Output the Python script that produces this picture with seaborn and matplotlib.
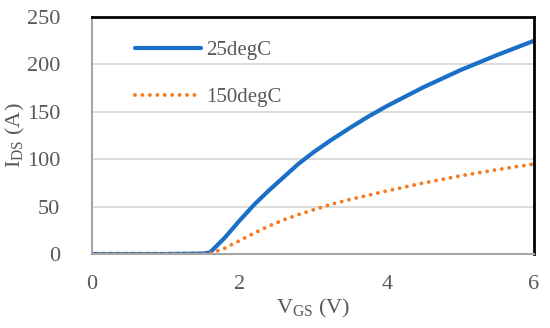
import matplotlib
matplotlib.use("Agg")
import matplotlib.pyplot as plt
import seaborn as sns
import pandas as pd

# Gate voltage sweep (V)
vgs = [0, 0.5, 1.0, 1.5, 1.6, 1.8, 2.0, 2.2, 2.4, 2.6, 2.8, 3.0, 3.25, 3.5,
       3.75, 4.0, 4.5, 5.0, 5.5, 6.0]
# Drain current (A)
ids_25 = [0, 0, 0, 0.5, 1.5, 17, 35, 52, 67, 81, 95, 107, 120.5, 133,
          145, 156, 176, 194, 210, 225]
ids_150 = [0, 0, 0, 0, 0.5, 6, 14, 22, 29.5, 36, 41.5, 46.5, 52.5, 57.5,
           62, 66.5, 75, 82.5, 89, 95]

labels = ["25degC", "150degC"]
x_ticks = [0, 2, 4, 6]
y_ticks = [0, 50, 100, 150, 200, 250]

BLUE = "#1A6FC6"
ORANGE = "#F57C22"
GREY = "#595959"

sns.set_style("white")
plt.rcParams["font.family"] = ["Liberation Serif", "DejaVu Serif"]
plt.rcParams["mathtext.fontset"] = "custom"
plt.rcParams["mathtext.rm"] = "Liberation Serif"

df = pd.DataFrame({"vgs": vgs, "i25": ids_25, "i150": ids_150})

fig = plt.figure(figsize=(5.5, 3.28), dpi=100)
ax = fig.add_axes([0.1673, 0.2256, 0.8037, 0.7224])

sns.lineplot(data=df, x="vgs", y="i25", ax=ax, color=BLUE, linewidth=3.0,
             label=labels[0], solid_capstyle="round")
sns.lineplot(data=df, x="vgs", y="i150", ax=ax, color=ORANGE, linewidth=2.8,
             label=labels[1], linestyle=(0, (0.01, 1.9)),
             dash_capstyle="round")

ax.set_xlim(0, 6)
ax.set_ylim(0, 250)
ax.set_xticks(x_ticks)
ax.set_yticks(y_ticks)
ax.tick_params(axis="both", length=0, labelsize=16, colors=GREY)
ax.tick_params(axis="x", pad=15)
ax.tick_params(axis="y", pad=23)

ax.yaxis.grid(True, color="#D9D9D9", linewidth=1.3)
ax.xaxis.grid(False)
ax.set_axisbelow(True)

for side in ["left", "bottom"]:
    ax.spines[side].set_color("#A6A6A6")
    ax.spines[side].set_linewidth(1.5)
for side in ["top", "right"]:
    ax.spines[side].set_color("black")
    ax.spines[side].set_linewidth(2.0)

ax.set_xlabel(r"$\mathregular{V_{GS}}$ (V)", fontsize=16, color=GREY,
              labelpad=2)
ax.set_ylabel(r"$\mathregular{I_{DS}}$ (A)", fontsize=16, color=GREY,
              labelpad=0)

leg = ax.legend(loc="upper left", bbox_to_anchor=(0.054, 0.98), frameon=False,
                fontsize=15, handlelength=3.2, handletextpad=0.25,
                labelspacing=1.3)
for t in leg.get_texts():
    t.set_color(GREY)

fig.savefig("out.png", dpi=100)
